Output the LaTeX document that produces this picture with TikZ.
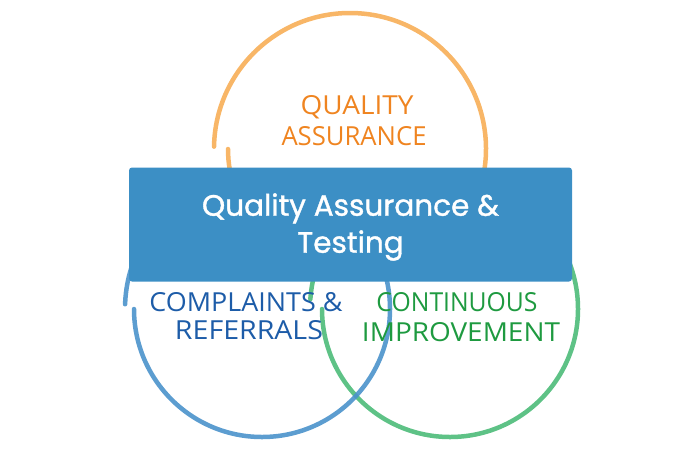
\documentclass[tikz,border=0pt]{standalone}
\usepackage{fontspec}
\setmainfont{Poppins}
\newfontfamily\boxfont{Poppins}[FakeBold=1.2]
\newfontfamily\hwfont{Open Sans}
\usepackage{graphicx}
\definecolor{orangeRing}{HTML}{F7AE57}
\definecolor{orangeText}{HTML}{EF8420}
\definecolor{blueRing}{HTML}{4A92CB}
\definecolor{blueText}{HTML}{1D5CA8}
\definecolor{greenRing}{HTML}{4DBB79}
\definecolor{greenText}{HTML}{1E9A40}
\definecolor{boxBlue}{HTML}{3C8FC5}
\newcommand\hwtext[2]{\resizebox{#1}{19pt}{\hwfont #2}}
\tikzset{
  ring/.style={line width=4.5pt, line cap=round, opacity=0.9},
  hwlabel/.style={inner sep=0pt, anchor=center},
  mainbox/.style={fill=boxBlue, rounded corners=3pt, minimum width=443pt, minimum height=114pt,
    inner sep=0pt},
  maintext/.style={inner sep=0pt, text=white, align=center, font=\boxfont\fontsize{29.5}{37}\selectfont}
}
\begin{document}
\begin{tikzpicture}[x=1pt,y=-1pt]
\useasboundingbox (0,0) rectangle (700,450);
% orange ring
\draw[ring, orangeRing] (350,149) ++(181:136) arc[start angle=181, end angle=400, radius=136];
\draw[ring, orangeRing] (350,149) ++(180:122) arc[start angle=180, end angle=140, radius=122];
% green ring
\draw[ring, greenRing] (450,309) ++(180:128) arc[start angle=180, end angle=-160, radius=128];
\draw[ring, greenRing] (450,309) ++(184:140) arc[start angle=184, end angle=200, radius=140];
% blue ring
\draw[ring, blueRing] (262,309) ++(180:128) arc[start angle=180, end angle=-160, radius=128];
\draw[ring, blueRing] (262,309) ++(182:137) arc[start angle=182, end angle=200, radius=137];
% central box
\node[mainbox] (box) at (350.5,224.5) {};
\node[maintext] (boxtext) at (350.5,227) {Quality Assurance \&\\Testing};
% handwritten labels
\node[hwlabel, text=orangeText] (qa1) at (357,107) {\hwtext{113pt}{QUALITY}};
\node[hwlabel, text=orangeText] (qa2) at (354,136) {\hwtext{145pt}{ASSURANCE}};
\node[hwlabel, text=blueText] (cr1) at (246,302) {\hwtext{193pt}{COMPLAINTS \&}};
\node[hwlabel, text=blueText] (cr2) at (249,330) {\hwtext{148pt}{REFERRALS}};
\node[hwlabel, text=greenText] (ci1) at (457,302) {\hwtext{161pt}{CONTINUOUS}};
\node[hwlabel, text=greenText] (ci2) at (461,332) {\hwtext{198pt}{IMPROVEMENT}};
\end{tikzpicture}
\end{document}
